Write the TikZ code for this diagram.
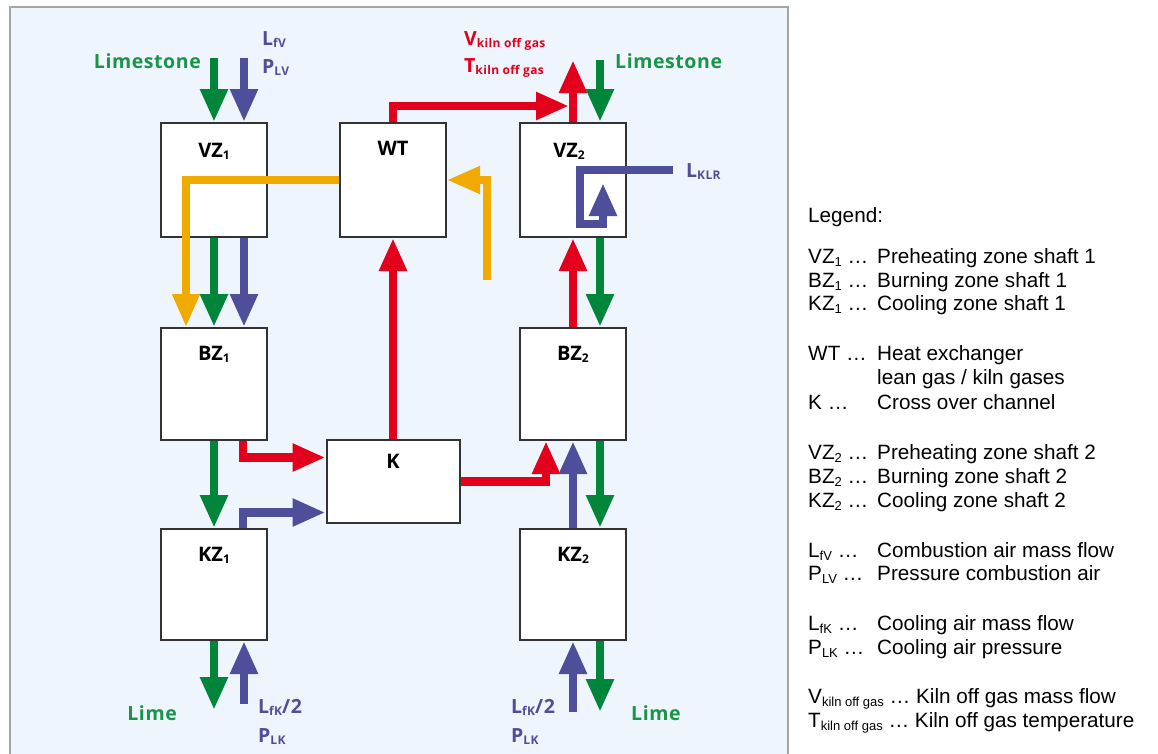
\documentclass[tikz,border=0pt]{standalone}
\usepackage{fontspec}
\setmainfont{Liberation Sans}
\newfontfamily\lblfont{Open Sans}[LetterSpace=3]
\newfontfamily\boxfont{Open Sans}
\usetikzlibrary{arrows.meta,calc}
\definecolor{cgreen}{RGB}{0,133,58}
\definecolor{cblue}{RGB}{78,78,154}
\definecolor{cred}{RGB}{226,0,28}
\definecolor{corange}{RGB}{240,170,0}
\definecolor{panelbg}{RGB}{238,245,252}
\definecolor{panelline}{RGB}{165,165,165}
\definecolor{tgreen}{RGB}{25,148,72}
\newcommand\dsub[1]{\raisebox{-2pt}{\fontsize{12}{12}\selectfont #1}}
\newcommand\gsub[1]{\raisebox{-3pt}{\fontsize{13}{13}\selectfont #1}}
\begin{document}
\begin{tikzpicture}[x=1pt,y=-1pt,
  zone/.style={draw=black!80, fill=white, line width=2pt, minimum width=106pt, minimum height=114pt, inner sep=0pt},
  flow/.style={line width=8.5pt, -{Triangle[length=33pt,width=26pt]}, line join=miter},
  gflow/.style={flow, draw=cgreen},
  bflow/.style={flow, draw=cblue},
  rflow/.style={flow, draw=cred},
  oflow/.style={flow, line width=7.5pt, draw=corange},
  zlabel/.style={font={\boxfont\bfseries\fontsize{20}{20}\selectfont}, anchor=base, inner sep=0pt},
  flabel/.style={font={\lblfont\bfseries\fontsize{19.5}{19.5}\selectfont}, anchor=base west, inner sep=0pt},
  legl/.style={font={\fontsize{20.7}{20.7}\selectfont}, anchor=base west, inner sep=0pt}
]
\useasboundingbox (0,0) rectangle (1158,753);
\fill[white] (0,0) rectangle (1158,753);
\draw[panelline, line width=2pt, fill=panelbg] (10,7) rectangle (788,756);

% boxes
\node[zone] (VZ1) at (214,180) {};
\node[zone] (WT)  at (393,180) {};
\node[zone] (VZ2) at (573,180) {};
\node[zone, minimum height=112pt] (BZ1) at (214,384) {};
\node[zone, minimum height=112pt] (BZ2) at (573,384) {};
\node[zone, minimum height=111pt] (KZ1) at (214,584.5) {};
\node[zone, minimum height=111pt] (KZ2) at (573,584.5) {};
\node[zone, minimum width=133pt, minimum height=83pt] (K) at (393,481.5) {};

\node[zlabel] (VZ1l) at ($(VZ1.north)+(0,35)$) {VZ\dsub{1}};
\node[zlabel] (WTl)  at ($(WT.north)+(0,33)$) {WT};
\node[zlabel] (VZ2l) at ($(VZ2.north)+(-4,35)$) {VZ\dsub{2}};
\node[zlabel] (BZ1l) at ($(BZ1.north)+(0,33)$) {BZ\dsub{1}};
\node[zlabel] (BZ2l) at ($(BZ2.north)+(0,33)$) {BZ\dsub{2}};
\node[zlabel] (KZ1l) at ($(KZ1.north)+(0,33)$) {KZ\dsub{1}};
\node[zlabel] (KZ2l) at ($(KZ2.north)+(0,33)$) {KZ\dsub{2}};
\node[zlabel] (Kl)   at ($(K.north)+(0,29)$) {K};

% free ends
\coordinate (ls1) at (214,58);
\coordinate (lfv) at (244,58);
\coordinate (vout) at (573,60);
\coordinate (ls2) at (600,60);
\coordinate (klr) at (673,170);
\coordinate (og) at (487,280);
\coordinate (lime1end) at (214,710);
\coordinate (lfk1start) at (244,704);
\coordinate (lfk2start) at (573,712);
\coordinate (lime2end) at (600,712);

% flows top
\draw[gflow] (ls1) -- (VZ1.north);
\draw[bflow] (lfv) -- (lfv |- VZ1.north);
\draw[oflow] (WT.west) -| ($(BZ1.north)+(-28,0)$);
\draw[gflow] (VZ1.south) -- (BZ1.north);
\draw[bflow] ($(VZ1.south)+(30,0)$) -- ($(BZ1.north)+(30,0)$);
\draw[rflow] (WT.north) |- ($(VZ2.north)+(-4,-16)$);
\draw[rflow] (VZ2.north) -- (vout);
\draw[gflow] (ls2) -- (ls2 |- VZ2.north);
\draw[bflow] (klr) -- ++(-93,0) -- ++(0,54) -- ++(23,0) -- ++(0,-41);
\draw[oflow] (og) |- (WT.east);
\draw[rflow] (K.north) -- (WT.south);
\draw[rflow] (BZ2.north) -- (VZ2.south);
\draw[gflow] ($(VZ2.south)+(27,0)$) -- ($(BZ2.north)+(27,0)$);

% flows bottom
\draw[gflow] (BZ1.south) -- (KZ1.north);
\draw[rflow] ($(BZ1.south)+(29,0)$) |- ($(K.west)+(0,-24)$);
\draw[bflow] ($(KZ1.north)+(29,0)$) |- ($(K.west)+(0,31)$);
\draw[rflow] (K.east) -| ($(BZ2.south)+(-27,0)$);
\draw[bflow] (KZ2.north) -- (BZ2.south);
\draw[gflow] ($(BZ2.south)+(27,0)$) -- ($(KZ2.north)+(27,0)$);
\draw[gflow] (KZ1.south) -- (lime1end);
\draw[bflow] (lfk1start) -- (lfk1start |- KZ1.south);
\draw[bflow] (lfk2start) -- (KZ2.south);
\draw[gflow] (lime2end |- KZ2.south) -- (lime2end);

% flow labels
\node[flabel, tgreen, anchor=base east] (ls1lbl) at (201,68) {Limestone};
\node[flabel, cblue] (lfvlbl) at (262,45) {L\dsub{fV}};
\node[flabel, cblue] (plvlbl) at (262,73) {P\dsub{LV}};
\node[flabel, cred] (vlbl) at (464,45) {V\dsub{kiln off gas}};
\node[flabel, cred] (tlbl) at (464,72) {T\dsub{kiln off gas}};
\node[flabel, tgreen] (ls2lbl) at (615,68) {Limestone};
\node[flabel, cblue] (klrlbl) at (686,177) {L\dsub{KLR}};
\node[flabel, tgreen, anchor=base east] (lime1) at (177,720) {Lime};
\node[flabel, cblue] (lfk1) at (258,713) {L\dsub{fK}/2};
\node[flabel, cblue] (plk1) at (258,742) {P\dsub{LK}};
\node[flabel, cblue] (lfk2) at (511,713) {L\dsub{fK}/2};
\node[flabel, cblue] (plk2) at (511,742) {P\dsub{LK}};
\node[flabel, tgreen] (lime2) at (631,720) {Lime};

% legend
\node[legl] (lg0) at (808,222) {Legend:};
\node[legl] (lg1a) at (808,263) {VZ\gsub{1} …};
\node[legl] (lg1b) at (877,263) {Preheating zone shaft 1};
\node[legl] (lg2a) at (808,287) {BZ\gsub{1} …};
\node[legl] (lg2b) at (877,287) {Burning zone shaft 1};
\node[legl] (lg3a) at (808,310) {KZ\gsub{1} …};
\node[legl] (lg3b) at (877,310) {Cooling zone shaft 1};
\node[legl] (lg4a) at (808,360) {WT …};
\node[legl] (lg4b) at (877,360) {Heat exchanger};
\node[legl] (lg4c) at (877,384) {lean gas / kiln gases};
\node[legl] (lg5a) at (808,409) {K …};
\node[legl] (lg5b) at (877,409) {Cross over channel};
\node[legl] (lg6a) at (808,459) {VZ\gsub{2} …};
\node[legl] (lg6b) at (877,459) {Preheating zone shaft 2};
\node[legl] (lg7a) at (808,483) {BZ\gsub{2} …};
\node[legl] (lg7b) at (877,483) {Burning zone shaft 2};
\node[legl] (lg8a) at (808,507) {KZ\gsub{2} …};
\node[legl] (lg8b) at (877,507) {Cooling zone shaft 2};
\node[legl] (lg9a) at (808,557) {L\gsub{fV} …};
\node[legl] (lg9b) at (877,557) {Combustion air mass flow};
\node[legl] (lg10a) at (808,580) {P\gsub{LV} …};
\node[legl] (lg10b) at (877,580) {Pressure combustion air};
\node[legl] (lg11a) at (808,630) {L\gsub{fK} …};
\node[legl] (lg11b) at (877,630) {Cooling air mass flow};
\node[legl] (lg12a) at (808,654) {P\gsub{LK} …};
\node[legl] (lg12b) at (877,654) {Cooling air pressure};
\node[legl] (lg13) at (808,703) {V\gsub{kiln off gas} … Kiln off gas mass flow};
\node[legl] (lg14) at (808,727) {T\gsub{kiln off gas} … Kiln off gas temperature};
\end{tikzpicture}
\end{document}
